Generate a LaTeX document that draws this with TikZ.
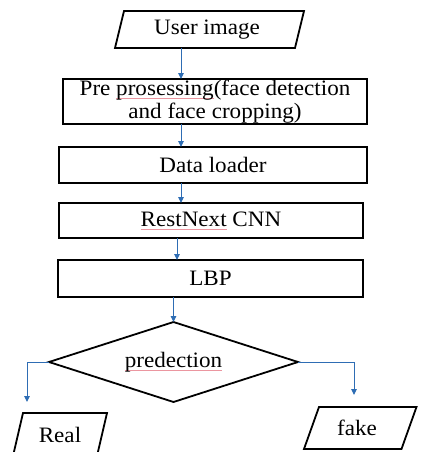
\documentclass[tikz,border=0pt]{standalone}
\usepackage{fontspec}
\setmainfont{Liberation Serif}[FakeStretch=1.05]
\usetikzlibrary{arrows.meta}
\definecolor{arrblue}{RGB}{46,109,180}
\definecolor{spellred}{RGB}{235,150,160}
\newsavebox\sperrbox
\newcommand\sperr[1]{\sbox\sperrbox{#1}\rlap{\textcolor{spellred}{\rule[-3pt]{\wd\sperrbox}{0.7pt}}}\usebox\sperrbox}
% parallelogram outline around a node: #1 node, #2 top shift, #3 bottom shift
\newcommand\paraline[3]{\draw[shapeline] ([xshift=#2]#1.north west) -- ([xshift=#2]#1.north east) -- ([xshift=#3]#1.south east) -- ([xshift=#3]#1.south west) -- cycle;}
\begin{document}
\begin{tikzpicture}[x=1pt,y=-1pt,
  txt/.style={font=\fontsize{22}{22.5}\selectfont},
  shapeline/.style={draw=black, line width=1.8pt, line join=miter},
  procbox/.style={txt, draw=black, line width=1.8pt, inner sep=0pt, outer sep=0pt, align=center},
  plain/.style={txt, inner sep=0pt, outer sep=0pt},
  arr/.style={draw=arrblue, line width=1pt, -{Triangle[length=6pt,width=5.5pt]}}]
\path[use as bounding box, fill=white] (0,0) rectangle (421,452);
\clip (0,0) rectangle (421,452);

\node[plain, minimum width=180pt, minimum height=37pt] (u) at (207,29.5) {User image};
\paraline{u}{7pt}{-2pt}

\node[procbox, minimum width=304pt, minimum height=45pt] (pre) at (215,101.5) {Pre \sperr{prosessing}(face detection\\and face cropping)};
\node[procbox, minimum width=308pt, minimum height=36pt] (data) at (213,165) {Data loader};
\node[procbox, minimum width=304pt, minimum height=35pt] (rest) at (211,220.5) {\sperr{RestNext} CNN};
\node[procbox, minimum width=305pt, minimum height=37pt] (lbp) at (210.5,278.5) {LBP};

\node[plain, minimum width=249pt, minimum height=80pt] (d) at (173.5,362) {\sperr{predection}};
\draw[shapeline] (d.north) -- (d.east) -- (d.south) -- (d.west) -- cycle;

\node[plain, minimum width=84pt, minimum height=43pt] (real) at (60,434.5) {Real};
\paraline{real}{5pt}{-5pt}
\node[plain, minimum width=97.5pt, minimum height=42pt] (fake) at (357,428) {fake};
\paraline{fake}{10.75pt}{-4.25pt}

\coordinate (c1) at (181,0);
\coordinate (c2) at (177,0);
\coordinate (realin) at (27,402);
\coordinate (fakein) at (354,395);
\draw[arr] (u.south -| c1) -- (pre.north -| c1);
\draw[arr] (pre.south -| c1) -- (data.north -| c1);
\draw[arr] (data.south -| c1) -- (rest.north -| c1);
\draw[arr] (rest.south -| c2) -- (lbp.north -| c2);
\draw[arr] (lbp.south -| d.north) -- (d.north);
\draw[arr] (d.west) -| (realin);
\draw[arr] (d.east) -| (fakein);
\end{tikzpicture}
\end{document}
